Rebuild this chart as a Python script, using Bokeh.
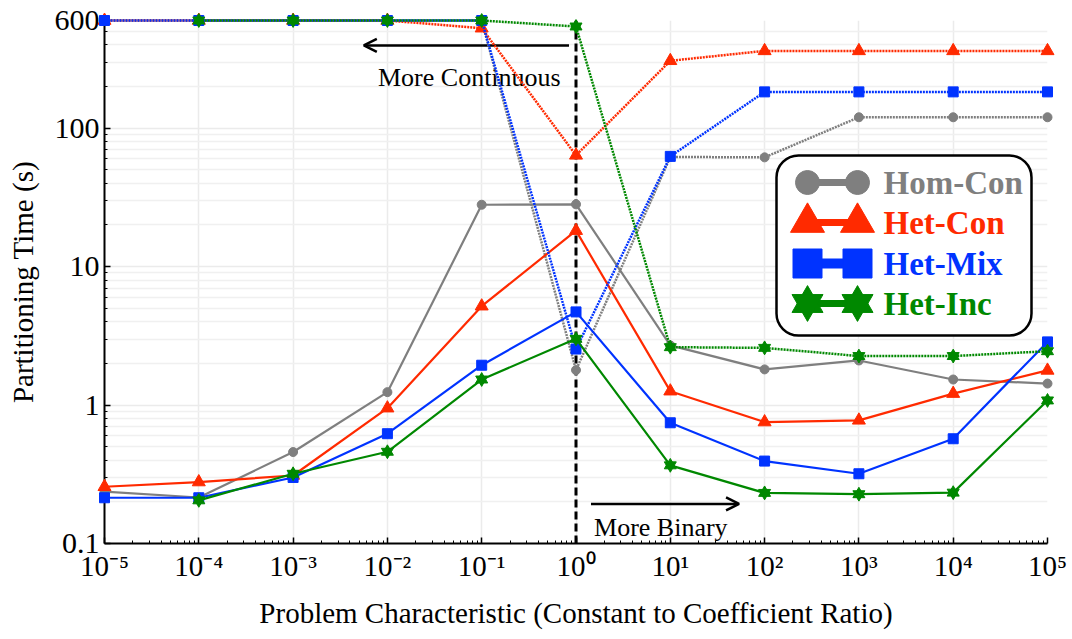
import math
from bokeh.plotting import figure
from bokeh.models import (Range1d, LinearScale, FixedTicker, CustomJSTickFormatter,
                          Label, Arrow, OpenHead)
from bokeh.core.properties import value
from bokeh.embed import file_html
from bokeh.resources import INLINE

NaN = float("nan")

# Constant-to-coefficient ratio (x) and partitioning time in seconds (y)
ratio = [1e-5, 1e-4, 1e-3, 1e-2, 1e-1, 1e0, 1e1, 1e2, 1e3, 1e4, 1e5]

hom_con_solid = [0.237, 0.215, 0.458, 1.24, 28.0, 28.2, 2.70, 1.81, 2.10, 1.53, 1.43]
hom_con_dotted = [600, 600, 600, 600, 600, 1.79, 62.0, 61.6, 120, 120, 120]

het_con_solid = [0.257, 0.278, 0.31, 0.95, 5.18, 18.2, 1.26, 0.754, 0.776, 1.21, 1.78]
het_con_dotted = [600, 600, 600, 600, 528, 63.7, 307, 362, 362, 362, 362]

het_mix_solid = [0.214, 0.214, 0.30, 0.621, 1.94, 4.71, 0.745, 0.394, 0.319, 0.571, 2.86]
het_mix_dotted = [600, 600, 600, 600, 600, 2.54, 62.6, 183, 183, 183, 183]

het_inc_solid = [NaN, 0.205, 0.319, 0.46, 1.53, 3.01, 0.367, 0.232, 0.227, 0.233, 1.08]
het_inc_dotted = [NaN, 600, 600, 600, 600, 543, 2.62, 2.59, 2.26, 2.26, 2.45]

series_names = ["Hom-Con", "Het-Con", "Het-Mix", "Het-Inc"]
series_colors = ["#7f7f7f", "#ff2a00", "#0033ff", "#008800"]

x_major = [10.0 ** e for e in range(-5, 6)]
x_minor = [m * 10.0 ** e for e in range(-5, 5) for m in range(2, 10)]
y_major = [0.1, 1, 10, 100, 600]
y_minor = [m * 10.0 ** e for e in range(-1, 2) for m in range(2, 10)] + [200, 300, 400, 500]

SERIF = "'Liberation Serif', 'Times New Roman', serif"

p = figure(width=1072, height=639, x_axis_type="log", y_axis_type="log",
           x_range=Range1d(1e-5, 1e5), y_range=Range1d(0.1, 600),
           output_backend="svg", toolbar_location=None,
           min_border_left=104, min_border_right=25, min_border_top=20,
           min_border_bottom=96)
p.outline_line_color = None
p.background_fill_color = "white"
p.border_fill_color = "white"

# pixel-style coordinate system for the hand-built legend
p.extra_x_ranges["px"] = Range1d(104, 1047)
p.extra_x_scales["px"] = LinearScale()
p.extra_y_ranges["px"] = Range1d(543, 20)
p.extra_y_scales["px"] = LinearScale()

xa = p.xaxis[0]
ya = p.yaxis[0]
xa.ticker = FixedTicker(ticks=x_major, minor_ticks=x_minor)
ya.ticker = FixedTicker(ticks=y_major, minor_ticks=y_minor)
xa.formatter = CustomJSTickFormatter(code="""
const sup = {"-": "\u207b", "0": "\u2070", "1": "\u00b9", "2": "\u00b2", "3": "\u00b3",
             "4": "\u2074", "5": "\u2075", "6": "\u2076", "7": "\u2077", "8": "\u2078", "9": "\u2079"};
const e = Math.round(Math.log10(tick));
return "10" + String(e).split("").map(c => sup[c]).join("");
""")
ya.formatter = CustomJSTickFormatter(code="""
return tick >= 1 ? tick.toFixed(0) : tick.toString();
""")

for ax in (xa, ya):
    ax.axis_line_color = "black"
    ax.axis_line_width = 2
    ax.major_tick_in = 6
    ax.major_tick_out = 0
    ax.minor_tick_in = 3
    ax.minor_tick_out = 0
    ax.major_tick_line_width = 1.5
    ax.minor_tick_line_width = 1
    ax.major_label_text_font = SERIF
    ax.major_label_text_color = "black"
    ax.axis_label_text_font = SERIF
    ax.axis_label_text_font_style = "normal"
    ax.axis_label_text_color = "black"

xa.major_label_text_font_size = "29px"
ya.major_label_text_font_size = "30px"
xa.axis_label_text_font_size = "29px"
ya.axis_label_text_font_size = "29px"
xa.axis_label = "Problem Characteristic (Constant to Coefficient Ratio)"
ya.axis_label = "Partitioning Time (s)"
xa.major_label_standoff = 6
ya.major_label_standoff = 5
xa.axis_label_standoff = 12
ya.axis_label_standoff = 13

p.xgrid.grid_line_color = "#ebebeb"
p.xgrid.grid_line_width = 1.5
p.ygrid.grid_line_color = "#ebebeb"
p.ygrid.grid_line_width = 1.5
p.ygrid.minor_grid_line_color = "#f0f0f0"
p.ygrid.minor_grid_line_width = 1.5

# boundary between continuous and binary regimes
p.segment(x0=[1.0], y0=[y_major[0]], x1=[1.0], y1=[y_major[-1]],
          line_color="black", line_width=3, line_dash="8 4")

LVL = "overlay"


def draw_markers(x, y, kind, color, size):
    if kind == "hexagram":
        p.scatter(x, y, marker="triangle", size=size, color=color, level=LVL)
        p.scatter(x, y, marker="inverted_triangle", size=size, color=color, level=LVL)
    else:
        p.scatter(x, y, marker=kind, size=size, color=color, level=LVL)


markers = [("circle", 9), ("triangle", 13), ("square", 10), ("hexagram", 12)]
solids = [hom_con_solid, het_con_solid, het_mix_solid, het_inc_solid]
dotteds = [hom_con_dotted, het_con_dotted, het_mix_dotted, het_inc_dotted]

for color, (kind, size), solid, dotted in zip(series_colors, markers, solids, dotteds):
    p.line(ratio, dotted, line_color=color, line_width=2.5, line_dash="2 1", level=LVL)
    draw_markers(ratio, dotted, kind, color, size)
    p.line(ratio, solid, line_color=color, line_width=2.2, level=LVL)
    draw_markers(ratio, solid, kind, color, size)

# direction annotations
p.add_layout(Arrow(x_start=10 ** -0.074, y_start=396, x_end=10 ** -2.25, y_end=396,
                   line_width=2.5, line_color="black",
                   end=OpenHead(size=13, line_width=2.5, line_color="black")))
p.add_layout(Label(x=10 ** -2.1, y=232, text="More Continuous", text_font=SERIF,
                   text_font_size="26px", text_color="black", text_baseline="alphabetic"))
p.add_layout(Arrow(x_start=10 ** 0.159, y_start=0.193, x_end=10 ** 1.729, y_end=0.193,
                   line_width=2.5, line_color="black",
                   end=OpenHead(size=13, line_width=2.5, line_color="black")))
p.add_layout(Label(x=10 ** 0.191, y=0.130, text="More Binary", text_font=SERIF,
                   text_font_size="26px", text_color="black", text_baseline="alphabetic"))

# legend
leg = dict(x_range_name="px", y_range_name="px", level=LVL)
p.quad(left=[776], right=[1031], top=[155], bottom=[335], fill_color="white",
       line_color="black", line_width=2.5, border_radius=22, **leg)
rows = [182, 222, 263, 303]
leg_sizes = [24, 34, 29, 31]
leg_widths = [7, 7, 10, 7]
for name, color, (kind, _), yrow, msize, lw in zip(series_names, series_colors, markers,
                                                    rows, leg_sizes, leg_widths):
    p.segment(x0=[807], y0=[yrow], x1=[857], y1=[yrow], line_color=color, line_width=lw, **leg)
    mk = ["triangle", "inverted_triangle"] if kind == "hexagram" else [kind]
    for m in mk:
        p.scatter([807, 857], [yrow, yrow], marker=m, size=msize, color=color, **leg)
    p.text(x=[883], y=[yrow], text=[name], text_font=value(SERIF), text_font_style="bold",
           text_font_size=value("33px"), text_color=color, text_baseline="middle", **leg)

open("out.html", "w").write(file_html(p, INLINE))
